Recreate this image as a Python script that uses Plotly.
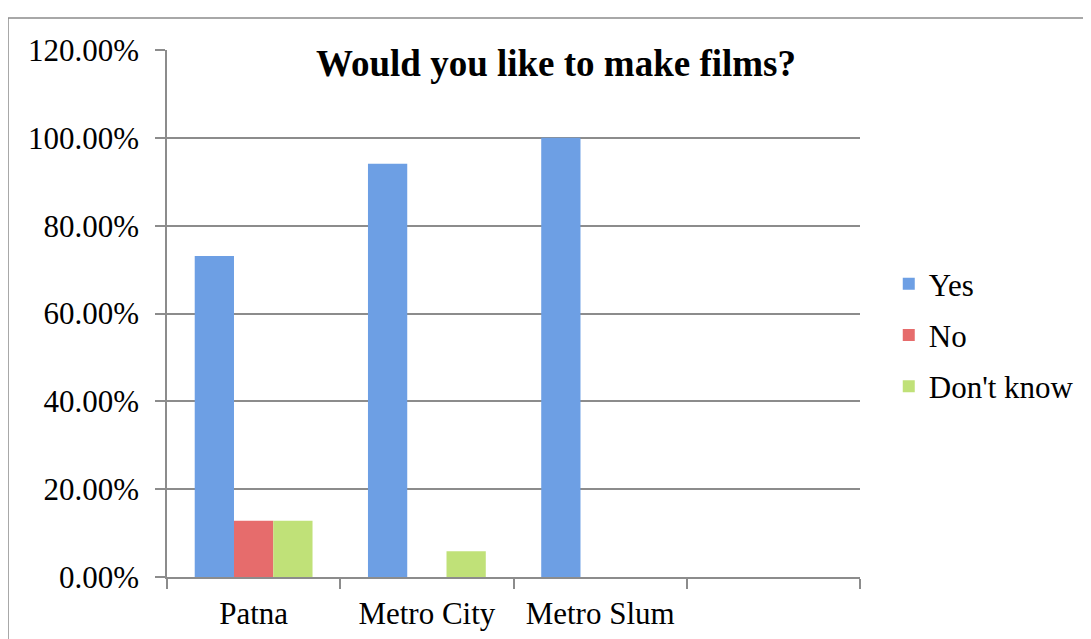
import plotly.graph_objects as go

categories = ["Patna", "Metro City", "Metro Slum", " "]
yes_vals = [0.731, 0.9412, 1.0, None]
no_vals = [0.128, None, None, None]
dont_know_vals = [0.128, 0.0588, None, None]

series = [
    ("Yes", yes_vals, "#6d9fe4"),
    ("No", no_vals, "#e66c6c"),
    ("Don't know", dont_know_vals, "#c0e178"),
]

FONT = "Liberation Serif, Times New Roman, serif"

fig = go.Figure()
for name, vals, color in series:
    fig.add_trace(go.Bar(
        x=categories, y=vals, name=name, legendgroup=name,
        marker=dict(color=color, line=dict(width=0)),
    ))

fig.update_layout(
    width=1083, height=631,
    margin=dict(l=159, r=231, t=42, b=62, autoexpand=False),
    paper_bgcolor="white", plot_bgcolor="white",
    barmode="group", bargap=0.32, bargroupgap=0,
    font=dict(family=FONT, color="black", size=31),
    title=dict(text="<b>Would you like to make films?</b>", x=548 / 1083, xanchor="center",
               y=1 - 55 / 631, yanchor="middle", font=dict(size=37, family=FONT)),
    legend=dict(x=1.0415, xanchor="left", y=0.459, yanchor="middle",
                font=dict(size=31, family=FONT), tracegroupgap=8,
                bgcolor="rgba(0,0,0,0)"),
    showlegend=True,
)
fig.update_yaxes(range=[0, 1.2], dtick=0.2, tickformat=".2%",
                 showgrid=True, gridcolor="#8c8c8c", gridwidth=1.5,
                 showline=True, linecolor="#8c8c8c", linewidth=1.5,
                 ticks="outside", ticklen=10, tickcolor="#8c8c8c", tickwidth=1.5,
                 zeroline=False, tickfont=dict(size=31), ticklabelstandoff=10,
                 automargin=False)
fig.update_xaxes(showline=True, linecolor="#8c8c8c", linewidth=1.5,
                 ticks="outside", ticklen=10, tickcolor="#8c8c8c", tickwidth=1.5,
                 tickson="boundaries", showgrid=False, tickfont=dict(size=31),
                 ticklabelstandoff=8, automargin=False)

fig.add_shape(type="rect", xref="paper", yref="paper",
              x0=(0 - 159) / 693, x1=1.4, y0=-0.3, y1=(527 + 32) / 527,
              line=dict(color="#8c8c8c", width=1.5), fillcolor="rgba(0,0,0,0)",
              layer="below")

fig.write_html("out.html")
